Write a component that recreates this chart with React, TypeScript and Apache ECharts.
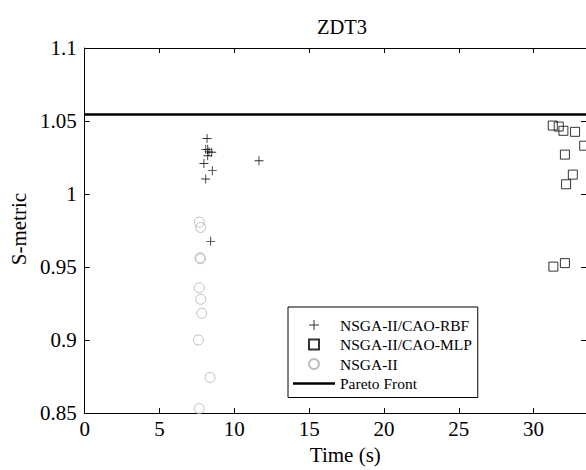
import React, { useEffect, useRef } from 'react';
import * as echarts from 'echarts';

const xMin = 0;
const xMax = 33.5;
const xInterval = 5;
const yMin = 0.85;
const yMax = 1.1;
const yInterval = 0.05;

const rbfPoints: number[][] = [
  [8.18, 1.038], [8.09, 1.0306], [8.22, 1.0306], [8.31, 1.0289], [8.49, 1.0286],
  [8.22, 1.0262], [7.97, 1.0209], [8.53, 1.016], [8.09, 1.0103], [11.65, 1.0228],
  [8.42, 0.9676],
];
const mlpPoints: number[][] = [
  [31.28, 1.0469], [31.68, 1.0462], [31.99, 1.0433], [32.77, 1.0426], [33.38, 1.0331],
  [32.09, 1.027], [32.62, 1.0133], [32.17, 1.0067], [31.32, 0.9503], [32.09, 0.9527],
];
const nsgaPoints: number[][] = [
  [7.66, 0.9808], [7.75, 0.9771], [7.71, 0.9564], [7.74, 0.9557], [7.66, 0.9358],
  [7.75, 0.9279], [7.82, 0.9184], [7.6, 0.9001], [8.38, 0.8744], [7.66, 0.8531],
];
const paretoFront: number[][] = [[0, 1.0545], [33.5, 1.0545]];

const seriesNames = ['NSGA-II/CAO-RBF', 'NSGA-II/CAO-MLP', 'NSGA-II', 'Pareto Front'];

const FONT = "'Liberation Serif', serif";
const plusPath = 'path://M4.5,0H5.5V10H4.5Z M0,4.5H10V5.5H0Z';
const squarePath = 'path://M0,0H10V10H0Z';
const linePath = 'path://M0,0H42V2.6H0Z';

export default function App() {
  const ref = useRef<HTMLDivElement>(null);
  useEffect(() => {
    if (!ref.current) return;
    const chart = echarts.init(ref.current, null, { renderer: 'svg' });
    const axisCommon = {
      axisLine: { show: true, onZero: false, lineStyle: { color: '#000', width: 1 } },
      axisTick: { show: true, inside: true, length: 5, lineStyle: { color: '#000' } },
      splitLine: { show: false },
    };
    chart.setOption({
      animation: false,
      backgroundColor: '#fff',
      textStyle: { fontFamily: FONT },
      title: {
        text: 'ZDT3',
        left: 337,
        top: 11,
        textAlign: 'center',
        textStyle: { fontFamily: FONT, fontSize: 20.5, fontWeight: 'normal', color: '#000' },
      },
      grid: { left: 84, top: 48, width: 502, height: 369 },
      legend: {
        orient: 'vertical',
        left: 288,
        top: 307,
        padding: [10, 6, 6, 5],
        itemGap: 3.5,
        itemWidth: 42,
        itemHeight: 10,
        backgroundColor: '#fff',
        borderColor: '#000',
        borderWidth: 1,
        borderRadius: 0,
        textStyle: { fontFamily: FONT, fontSize: 15.5, color: '#000', lineHeight: 16 },
        data: [
          { name: seriesNames[0], icon: plusPath },
          { name: seriesNames[1], icon: squarePath },
          { name: seriesNames[2], icon: 'circle' },
          { name: seriesNames[3], icon: linePath },
        ],
      },
      xAxis: [
        {
          ...axisCommon,
          type: 'value',
          position: 'bottom',
          min: xMin,
          max: xMax,
          interval: xInterval,
          name: 'Time (s)',
          nameLocation: 'middle',
          nameGap: 28,
          nameTextStyle: { fontFamily: FONT, fontSize: 21, color: '#000', padding: [0, 0, 0, 20] },
          axisLabel: {
            fontFamily: FONT, fontSize: 21, color: '#000', margin: 5,
            showMaxLabel: false,
            formatter: (v: number) => (v % 5 === 0 ? String(v) : ''),
          },
        },
        {
          ...axisCommon,
          type: 'value',
          position: 'top',
          min: xMin,
          max: xMax,
          interval: xInterval,
          axisLabel: { show: false },
        },
      ],
      yAxis: [
        {
          ...axisCommon,
          type: 'value',
          position: 'left',
          min: yMin,
          max: yMax,
          interval: yInterval,
          name: 'S-metric',
          nameLocation: 'middle',
          nameGap: 55,
          nameRotate: 90,
          nameTextStyle: { fontFamily: FONT, fontSize: 21, color: '#000', padding: [0, 0, 0, 3] },
          axisLabel: {
            fontFamily: FONT, fontSize: 21, color: '#000', margin: 8,
            formatter: (v: number) => String(parseFloat(v.toFixed(2))),
          },
        },
        {
          ...axisCommon,
          type: 'value',
          position: 'right',
          min: yMin,
          max: yMax,
          interval: yInterval,
          axisLabel: { show: false },
        },
      ],
      series: [
        {
          name: seriesNames[3],
          type: 'line',
          data: paretoFront,
          symbol: 'none',
          lineStyle: { color: '#000', width: 2.6 },
          itemStyle: { color: '#000' },
          z: 1,
        },
        {
          name: seriesNames[2],
          type: 'scatter',
          data: nsgaPoints,
          symbol: 'circle',
          symbolSize: 10,
          itemStyle: { color: 'rgba(0,0,0,0)', borderColor: '#b0b0b0', borderWidth: 1 },
          z: 2,
        },
        {
          name: seriesNames[1],
          type: 'scatter',
          data: mlpPoints,
          symbol: squarePath,
          symbolSize: 9,
          itemStyle: { color: 'rgba(0,0,0,0)', borderColor: '#000', borderWidth: 1 },
          z: 3,
        },
        {
          name: seriesNames[0],
          type: 'scatter',
          data: rbfPoints,
          symbol: plusPath,
          symbolSize: 9,
          itemStyle: { color: '#000' },
          z: 4,
        },
      ],
    });
    return () => chart.dispose();
  }, []);
  return (
    <div
      ref={ref}
      style={{ position: 'fixed', left: 0, top: 0, width: 586, height: 470 }}
    />
  );
}
